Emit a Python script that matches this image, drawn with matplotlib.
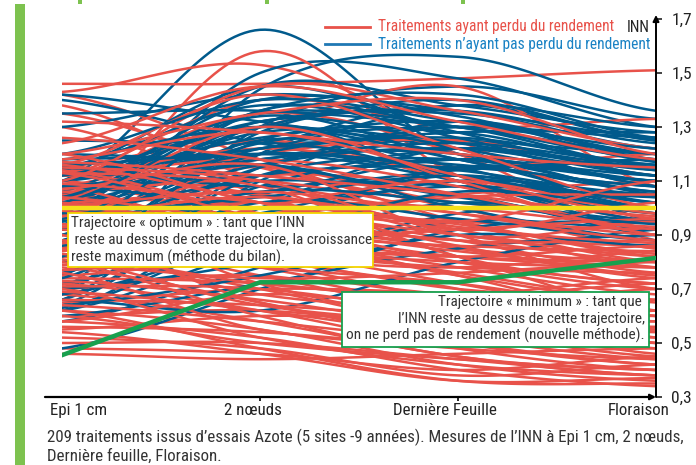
import numpy as np
import matplotlib
matplotlib.use("Agg")
import matplotlib.pyplot as plt
from matplotlib import font_manager
from matplotlib.patches import Rectangle

# pick a condensed face if one is installed, else a regular one at a smaller size
names = {f.name for f in font_manager.fontManager.ttflist}
narrow = [n for n in ("Liberation Sans Narrow", "Roboto Condensed", "DejaVu Sans Condensed",
                      "Open Sans Condensed", "Noto Sans Condensed", "Arial Narrow")
          if n in names]
if narrow:
    FAMILY, SCALE = narrow[0], 1.0
else:
    FAMILY, SCALE = "Liberation Sans", 0.84
plt.rcParams['font.family'] = [FAMILY, 'DejaVu Sans']
FS = 12.2 * SCALE     # labels, caption
FS_LEG = 11.2 * SCALE # legend
FS_BOX = 11 * SCALE   # text in the two boxes

W, H = 696, 465

# ----------------------------------------------------------------------
STAGES = ["Epi 1 cm", "2 nœuds", "Dernière Feuille", "Floraison"]
Y_TICKS = [0.3, 0.5, 0.7, 0.9, 1.1, 1.3, 1.5, 1.7]

# INN at (Epi 1 cm, 2 noeuds, Derniere feuille, Floraison)
BLUE = [
    [1.10, 1.66, 1.20, 1.18], [0.70, 1.44, 1.56, 1.36], [0.92, 1.50, 1.48, 1.30],
    [0.68, 1.30, 1.45, 1.33], [1.42, 1.32, 1.22, 1.10], [1.40, 1.24, 1.12, 1.00],
    [1.25, 1.24, 1.25, 1.20], [0.66, 1.20, 1.38, 1.25], [0.64, 1.10, 1.32, 1.18],
    [0.70, 1.15, 1.25, 1.12], [0.75, 1.28, 1.35, 1.22], [0.62, 1.00, 1.22, 1.08],
    [1.10, 1.35, 1.30, 1.15], [1.05, 1.30, 1.40, 1.25], [1.12, 1.22, 1.28, 1.28],
    [1.00, 1.18, 1.20, 1.05], [0.95, 1.25, 1.15, 0.98], [1.08, 1.12, 1.18, 1.12],
    [1.15, 1.38, 1.26, 1.08], [1.02, 1.28, 1.22, 0.95], [0.88, 1.15, 1.30, 1.20],
    [0.90, 1.05, 1.18, 1.10], [1.10, 1.20, 1.10, 0.92], [0.98, 1.10, 1.05, 0.90],
    [0.85, 1.22, 1.12, 1.02], [1.06, 1.40, 1.34, 1.17], [0.72, 0.95, 1.10, 1.05],
    [0.66, 1.05, 1.08, 0.95], [0.62, 0.85, 1.02, 0.92], [0.58, 0.78, 0.98, 1.00],
    [1.15, 1.08, 1.14, 1.18], [1.18, 1.30, 1.18, 1.02], [0.95, 1.32, 1.24, 1.14],
    [0.80, 1.08, 1.22, 1.15], [1.12, 1.26, 1.32, 1.20], [1.02, 1.16, 1.00, 0.88],
    [0.92, 1.12, 1.15, 1.08], [1.35, 1.36, 1.30, 1.20], [1.30, 1.42, 1.36, 1.26],
    [0.98, 1.45, 1.38, 1.28], [0.63, 0.92, 1.15, 1.10], [0.70, 0.80, 0.95, 0.92],
    [1.08, 1.02, 1.08, 1.04], [1.20, 1.16, 1.04, 0.95], [0.88, 1.30, 1.10, 0.98],
    [1.00, 1.24, 1.30, 1.26], [1.14, 1.45, 1.28, 1.12], [0.86, 0.98, 1.12, 1.00],
    [0.76, 1.02, 0.96, 0.88], [0.60, 0.72, 0.85, 0.90], [0.48, 0.70, 0.92, 0.95],
    [0.66, 0.62, 0.80, 0.92], [1.04, 1.34, 1.18, 1.06], [1.18, 1.22, 1.38, 1.30],
    [0.94, 1.20, 1.26, 1.16], [1.10, 1.30, 1.20, 1.10], [1.04, 1.20, 1.14, 1.04],
    [0.96, 1.16, 1.22, 1.12], [1.12, 1.32, 1.36, 1.24], [0.90, 1.36, 1.30, 1.18],
    [0.82, 1.25, 1.28, 1.14], [0.74, 1.12, 1.18, 1.06], [1.08, 1.18, 1.24, 1.16],
    [0.98, 1.04, 1.12, 1.02], [1.20, 1.40, 1.32, 1.22], [0.68, 0.88, 1.06, 1.00],
    [0.64, 0.75, 0.90, 0.86], [1.02, 1.36, 1.42, 1.26], [1.16, 1.20, 1.16, 1.08],
    [0.86, 1.06, 1.02, 0.94],
]

RED = [
    [1.46, 1.46, 1.48, 1.51], [1.43, 1.53, 1.25, 0.95], [0.95, 1.58, 1.12, 1.00],
    [1.42, 1.18, 0.95, 0.80], [1.38, 1.10, 0.90, 0.70], [1.35, 1.15, 1.00, 0.85],
    [1.30, 1.05, 0.82, 0.62], [1.12, 1.40, 1.30, 1.33], [1.15, 1.30, 1.45, 1.08],
    [1.10, 1.35, 1.20, 0.88], [1.08, 1.25, 1.10, 0.95], [1.12, 1.12, 1.00, 0.85],
    [1.05, 1.20, 1.25, 1.12], [1.02, 0.98, 1.05, 1.10], [1.14, 1.05, 0.92, 0.78],
    [1.10, 0.95, 0.85, 0.75], [1.06, 0.90, 0.78, 0.68], [1.00, 1.08, 0.95, 0.82],
    [1.08, 1.15, 1.02, 1.00], [1.15, 0.92, 0.75, 0.60], [1.04, 1.00, 0.88, 0.76],
    [0.98, 1.12, 1.08, 0.98], [1.12, 1.22, 1.15, 1.20], [1.00, 0.92, 0.80, 0.72],
    [0.96, 0.85, 0.72, 0.60], [1.05, 0.82, 0.70, 0.52], [0.92, 0.80, 0.65, 0.50],
    [0.90, 0.95, 0.85, 0.80], [0.88, 0.75, 0.60, 0.48], [0.85, 0.88, 0.75, 0.65],
    [0.82, 0.70, 0.55, 0.45], [0.80, 0.90, 0.82, 0.78], [0.78, 0.65, 0.50, 0.42],
    [0.75, 0.80, 0.70, 0.66], [0.72, 0.62, 0.48, 0.40], [0.70, 0.75, 0.62, 0.55],
    [0.68, 0.58, 0.45, 0.38], [0.65, 0.70, 0.68, 0.62], [0.62, 0.55, 0.42, 0.36],
    [0.60, 0.62, 0.55, 0.50], [0.58, 0.52, 0.40, 0.34], [0.55, 0.60, 0.58, 0.54],
    [0.52, 0.48, 0.38, 0.42], [0.48, 0.46, 0.40, 0.45], [0.46, 0.44, 0.46, 0.48],
    [1.10, 1.00, 0.95, 0.92], [1.02, 1.05, 0.90, 0.86], [0.96, 1.02, 1.00, 0.93],
    [0.90, 0.82, 0.78, 0.84], [1.08, 0.88, 0.82, 0.80], [1.12, 1.18, 1.08, 0.90],
    [1.06, 1.10, 0.98, 0.88], [0.94, 0.78, 0.68, 0.72], [0.86, 0.68, 0.64, 0.70],
    [0.74, 0.72, 0.64, 0.58], [0.66, 0.64, 0.58, 0.46], [0.98, 0.72, 0.58, 0.56],
    [1.14, 0.98, 0.88, 0.88], [1.00, 0.96, 1.04, 1.05], [0.84, 1.00, 1.10, 0.98],
    [1.03, 1.30, 1.10, 0.90], [1.16, 1.42, 1.22, 1.00], [1.10, 1.45, 1.36, 1.22],
    [0.90, 0.65, 0.55, 0.62], [0.76, 0.55, 0.50, 0.55], [1.13, 1.08, 0.82, 0.72],
    [1.07, 1.16, 0.90, 0.95], [0.58, 0.68, 0.62, 0.60], [0.92, 0.88, 0.92, 0.96],
    [1.20, 1.02, 0.95, 1.10], [1.15, 1.10, 0.92, 1.02], [0.80, 0.60, 0.45, 0.40],
    [0.70, 0.52, 0.42, 0.38], [0.62, 0.48, 0.36, 0.35], [0.85, 0.78, 0.72, 0.62],
    [1.16, 1.02, 0.86, 0.74], [1.13, 0.96, 0.80, 0.70], [1.09, 1.02, 0.94, 0.83],
    [1.04, 0.94, 0.84, 0.78], [1.01, 1.06, 0.98, 0.90], [1.17, 1.12, 1.05, 0.97],
    [0.99, 0.88, 0.76, 0.66], [0.97, 1.04, 0.93, 0.87], [0.93, 0.98, 0.90, 0.82],
    [0.87, 0.92, 0.88, 0.80], [0.83, 0.72, 0.68, 0.74], [0.79, 0.74, 0.76, 0.80],
    [0.77, 0.82, 0.78, 0.76], [0.73, 0.66, 0.56, 0.52], [0.69, 0.62, 0.52, 0.44],
    [0.64, 0.58, 0.50, 0.42], [0.60, 0.50, 0.44, 0.40], [0.56, 0.54, 0.48, 0.44],
    [0.54, 0.46, 0.36, 0.37], [0.50, 0.50, 0.44, 0.38], [1.18, 1.28, 1.12, 0.96],
    [1.20, 1.35, 1.40, 1.20], [1.26, 1.18, 1.05, 0.92], [1.32, 1.28, 1.20, 1.15],
    [1.24, 1.45, 1.32, 1.18], [0.88, 0.86, 0.82, 0.86], [0.94, 0.90, 0.86, 0.84],
    [1.02, 0.86, 0.80, 0.78], [0.81, 0.64, 0.58, 0.58], [0.71, 0.70, 0.60, 0.50],
]

OPTIMUM = [1.0, 1.0, 1.0, 1.0]
MINIMUM = [0.455, 0.725, 0.725, 0.815]

RED_C = "#e8524a"
BLUE_C = "#005a8c"
TXT = "#333333"


def smooth(vals, n=40):
    """Excel-like smoothed line (Bezier with 1/6 tangents)."""
    p = np.array(vals, float)
    xs, ys = [], []
    t = np.linspace(0, 1, n)
    for i in range(len(p) - 1):
        p0 = p[max(i - 1, 0)]
        p3 = p[min(i + 2, len(p) - 1)]
        c1 = p[i] + (p[i + 1] - p0) / 6
        c2 = p[i + 1] - (p3 - p[i]) / 6
        y = ((1 - t) ** 3 * p[i] + 3 * (1 - t) ** 2 * t * c1
             + 3 * (1 - t) * t ** 2 * c2 + t ** 3 * p[i + 1])
        xs.append(i + t)
        ys.append(y)
    return np.concatenate(xs), np.concatenate(ys)


def fx(x):
    return x / W


def fy(y):
    return 1 - y / H


fig = plt.figure(figsize=(W / 100, H / 100), dpi=100)
ax = fig.add_axes([fx(62), fy(397), (656 - 62) / W, (397 - 19) / H])
ax.set_xlim(0, 3)
ax.set_ylim(0.3, 1.7)
for s in ax.spines.values():
    s.set_visible(False)
ax.patch.set_alpha(0)

# curves, interleaved so neither colour sits fully on top
for i in range(max(len(RED), len(BLUE))):
    if i < len(BLUE):
        ax.plot(*smooth(BLUE[i]), color=BLUE_C, lw=1.8, solid_capstyle="round")
    if i < len(RED):
        ax.plot(*smooth(RED[i]), color=RED_C, lw=1.8, solid_capstyle="round")

ax.plot(range(4), OPTIMUM, color="#f5e11a", lw=3.2, zorder=5)
ax.plot(range(4), MINIMUM, color="#17a04e", lw=3.2, zorder=5)

# axes
ax.set_yticks(Y_TICKS)
ax.set_yticklabels([f"{v:.1f}".replace(".", ",") for v in Y_TICKS])
ax.yaxis.tick_right()
ax.tick_params(axis="y", direction="out", length=4, width=1.2, pad=7,
               labelsize=12.5 * SCALE, colors="#222222")
ax.set_xticks([1, 2])
ax.set_xticklabels([])
ax.tick_params(axis="x", direction="out", length=3, width=1.2)
ax.annotate("", xy=(3, 1.715), xytext=(3, 0.3), annotation_clip=False,
            arrowprops=dict(arrowstyle="-|>", color="black", lw=1.4,
                            mutation_scale=9, shrinkA=0, shrinkB=0))
ax.annotate("", xy=(3.0, 0.3), xytext=(-0.086, 0.3), annotation_clip=False,
            arrowprops=dict(arrowstyle="-|>", color="black", lw=1.6,
                            mutation_scale=8, shrinkA=0, shrinkB=0))

# stage labels
for lab, xc in zip(STAGES, [79, 253, 445, 639]):
    fig.text(fx(xc), fy(410), lab, ha="center", va="center", fontsize=FS,
             color="#222222")
fig.text(fx(650), fy(27), "INN", ha="right", va="center", fontsize=FS_LEG,
         color="#222222")

# legend
fig.add_artist(plt.Line2D([fx(325), fx(370)], [fy(27), fy(27)], color=RED_C, lw=2))
fig.add_artist(plt.Line2D([fx(325), fx(370)], [fy(44), fy(44)], color="#1f78b4", lw=2))
fig.text(fx(378), fy(27), "Traitements ayant perdu du rendement", ha="left",
         va="center", fontsize=FS_LEG, color=RED_C)
fig.text(fx(378), fy(44), "Traitements n\u2019ayant pas perdu du rendement",
         ha="left", va="center", fontsize=FS_LEG, color="#1a82c4")

# annotation boxes
fig.add_artist(Rectangle((fx(68), fy(267)), (373 - 68) / W, (267 - 213) / H,
                         transform=fig.transFigure, facecolor="white",
                         edgecolor="#f3d400", lw=1.3, zorder=6))
opt_lines = ["Trajectoire \u00ab optimum \u00bb : tant que l\u2019INN",
             " reste au dessus de cette trajectoire, la croissance",
             "reste maximum (m\u00e9thode du bilan)."]
for k, line in enumerate(opt_lines):
    fig.text(fx(71), fy(223 + 17 * k), line, ha="left", va="center",
             fontsize=FS_BOX, color=TXT, zorder=7)

fig.add_artist(Rectangle((fx(342), fy(347)), (649 - 342) / W, (347 - 292) / H,
                         transform=fig.transFigure, facecolor="white",
                         edgecolor="#17a04e", lw=1.3, zorder=6))
min_lines = ["Trajectoire \u00ab minimum \u00bb : tant que ",
             "l\u2019INN reste au dessus de cette trajectoire,",
             "on ne perd pas de rendement (nouvelle m\u00e9thode)."]
for k, line in enumerate(min_lines):
    fig.text(fx(645), fy(302 + 16.5 * k), line, ha="right", va="center",
             fontsize=FS_BOX, color=TXT, zorder=7)

# caption
fig.text(fx(47), fy(437), "209 traitements issus d\u2019essais Azote (5 sites -9 ann\u00e9es). "
         "Mesures de l\u2019INN \u00e0 Epi 1 cm, 2 n\u0153uds,", ha="left", va="center",
         fontsize=FS, color=TXT)
fig.text(fx(47), fy(456), "Derni\u00e8re feuille, Floraison.", ha="left", va="center",
         fontsize=FS, color=TXT)

# green frame bits
GREEN = "#7dc24f"
fig.add_artist(Rectangle((fx(15), 0), 10 / W, fy(4), transform=fig.transFigure,
                         facecolor=GREEN, edgecolor="none"))
for gx in (78, 265, 461):
    fig.add_artist(Rectangle((fx(gx), fy(4)), 4 / W, 4 / H,
                             transform=fig.transFigure, facecolor=GREEN,
                             edgecolor="none"))

fig.savefig("out.png", dpi=100)
